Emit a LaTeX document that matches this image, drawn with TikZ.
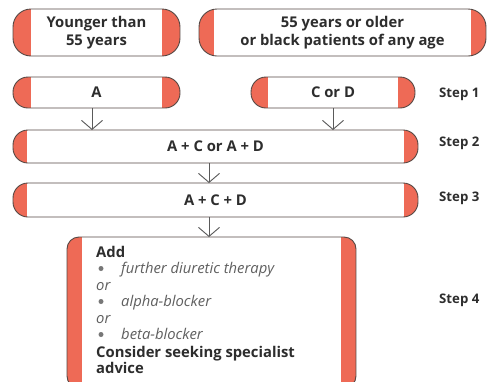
\documentclass[tikz,border=0pt]{standalone}
\usepackage{fontspec}
\setmainfont{Open Sans}
\newfontfamily\dejavu{DejaVu Sans}
\usetikzlibrary{arrows.meta}
\definecolor{capred}{RGB}{238,106,86}
\definecolor{boxline}{RGB}{85,72,68}
\definecolor{txtc}{RGB}{45,45,45}
\definecolor{itc}{RGB}{95,95,95}
\definecolor{arrc}{RGB}{90,90,90}
\tikzset{
  boxborder/.style={draw=boxline, line width=0.9pt},
  boxnode/.style={inner sep=0pt, outer sep=0pt, align=center, text=txtc,
    font=\fontsize{14.8}{17.5}\selectfont\bfseries},
  steplabel/.style={anchor=west, inner sep=0pt, text=txtc,
    font=\fontsize{13.2}{15}\selectfont\bfseries},
  lineb/.style={anchor=base west, inner sep=0pt, text=txtc,
    font=\fontsize{14.8}{17}\selectfont\bfseries},
  linei/.style={anchor=base west, inner sep=0pt, text=itc,
    font=\fontsize{14.8}{17}\selectfont\itshape},
  dot/.style={circle, fill=itc!85, inner sep=0pt, minimum size=5pt},
  flow/.style={draw=arrc, line width=0.9pt, -{Straight Barb[length=9pt,width=21pt,line width=0.9pt]}},
}
% #1 name, #2 x0, #3 y0, #4 x1, #5 y1, #6 cap width, #7 corner radius, #8 text
\newcommand\capsulebox[8]{%
  \begin{scope}
    \clip[rounded corners=#7pt] (#2,#3) rectangle (#4,#5);
    \fill[capred] (#2,#3) rectangle ({#2+#6},#5);
    \fill[capred] ({#4-#6},#3) rectangle (#4,#5);
  \end{scope}
  \draw[boxborder, rounded corners=#7pt] (#2,#3) rectangle (#4,#5);
  \node[boxnode, minimum width={(#4-#2)*1pt}, minimum height={(#5-#3)*1pt}]
    (#1) at ({(#2+#4)/2},{(#3+#5)/2}) {#8};
}
\begin{document}
\begin{tikzpicture}[x=1pt,y=-1pt]
\useasboundingbox (0,0) rectangle (488,381);
\fill[white] (0,0) rectangle (488,381);
\begin{scope}
\clip (0,0) rectangle (488,381);

\capsulebox{young}{13}{9}{180}{56}{18}{18}{Younger than\\55 years}
\capsulebox{old}{199}{9}{486}{56}{15}{18}{55 years or older\\or black patients of any age}
\capsulebox{a}{13}{77}{180}{108}{18}{15}{A}
\capsulebox{cd}{251}{77}{415}{108}{17}{15}{C or D}
\capsulebox{s2}{13}{130}{418}{163}{14}{15}{A + C or A + D}
\capsulebox{s3}{13}{183}{418}{217}{14}{15}{A + C + D}
\capsulebox{s4}{67}{237}{356}{388}{15}{12}{}

\node[lineb] (l1) at (96,257) {Add};
\node[dot] (d1) at (101,268.5) {};
\node[linei] (l2) at (121,273.5) {further diuretic therapy};
\node[linei] (l3) at (96,290) {or};
\node[dot] (d2) at (101,301.5) {};
\node[linei] (l4) at (121,306.5) {alpha-blocker};
\node[linei] (l5) at (96,323) {or};
\node[dot] (d3) at (101,334.5) {};
\node[linei] (l6) at (121,339.5) {beta-blocker};
\node[lineb] (l7) at (96,357) {Consider seeking specialist};
\node[lineb] (l8) at (96,373) {advice};

\node[steplabel] (st1) at (439,94) {Step 1};
\node[steplabel] (st2) at (439,143) {Step 2};
\node[steplabel] (st3) at (439,198) {Step 3};
\node[steplabel] (st4) at (439,300) {Step 4};

\draw[flow] ([xshift=-4.5pt]a.south) -- ([xshift=-4.5pt]a.south |- s2.north);
\draw[flow] (cd.south) -- (cd.south |- s2.north);
\draw[flow] ([xshift=-6.5pt]s2.south) -- ([xshift=-6.5pt]s3.north);
\draw[flow] ([xshift=-6.5pt]s3.south) -- ([xshift=-6.5pt]s3.south |- s4.north);
\end{scope}
\end{tikzpicture}
\end{document}
